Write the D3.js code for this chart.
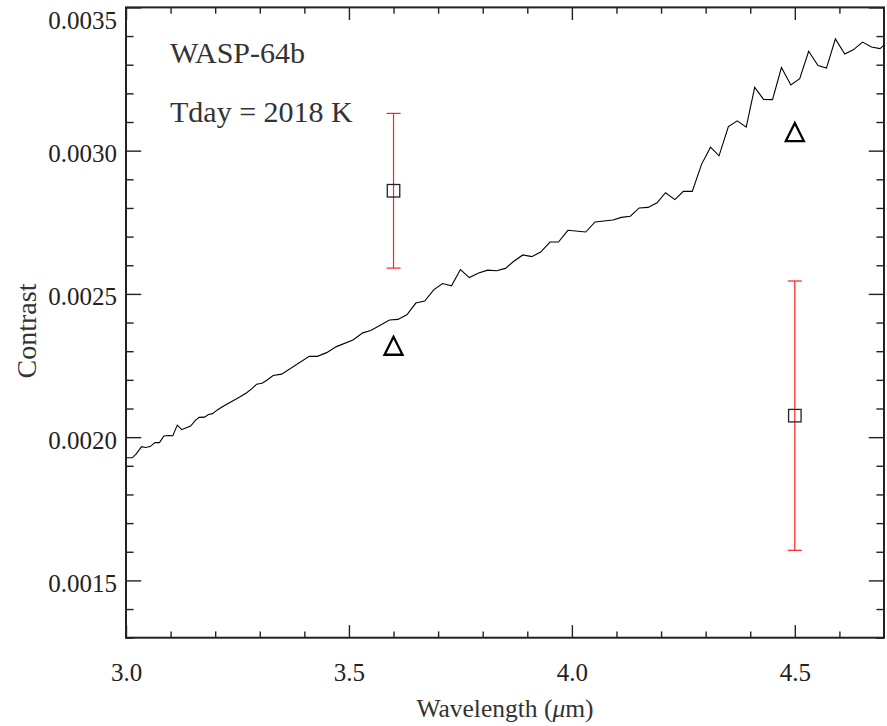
<!DOCTYPE html>
<html>
<head>
<meta charset="utf-8">
<script src="https://cdn.jsdelivr.net/npm/d3@7"></script>
</head>
<body style="margin:0; background:#fff">
<svg id="chart" width="887" height="726"></svg>
<script>
// Model planet/star contrast spectrum: [wavelength (micron), contrast]
const modelSpectrum = [
  [3.000, 0.001928], [3.014, 0.001928], [3.023, 0.001942], [3.035, 0.001967], [3.044, 0.001964],
  [3.054, 0.001967], [3.065, 0.001981], [3.075, 0.001981], [3.085, 0.002004], [3.096, 0.002006],
  [3.105, 0.002005], [3.115, 0.002042], [3.125, 0.002026], [3.135, 0.002033], [3.145, 0.002039],
  [3.155, 0.002058], [3.164, 0.002069], [3.176, 0.002070], [3.185, 0.002079], [3.194, 0.002082],
  [3.205, 0.002095], [3.215, 0.002105], [3.235, 0.002123], [3.255, 0.002140], [3.270, 0.002154],
  [3.283, 0.002170], [3.293, 0.002185], [3.305, 0.002188], [3.315, 0.002198], [3.330, 0.002215],
  [3.349, 0.002220], [3.411, 0.002282], [3.429, 0.002282], [3.450, 0.002295], [3.472, 0.002316],
  [3.509, 0.002339], [3.531, 0.002364], [3.549, 0.002372], [3.591, 0.002409], [3.610, 0.002411],
  [3.630, 0.002427], [3.650, 0.002468], [3.670, 0.002475], [3.690, 0.002514], [3.710, 0.002536],
  [3.730, 0.002528], [3.750, 0.002585], [3.770, 0.002557], [3.791, 0.002573], [3.811, 0.002583],
  [3.831, 0.002581], [3.851, 0.002589], [3.869, 0.002613], [3.890, 0.002636], [3.910, 0.002630],
  [3.930, 0.002646], [3.951, 0.002681], [3.970, 0.002681], [3.991, 0.002722], [4.031, 0.002716],
  [4.052, 0.002751], [4.092, 0.002758], [4.111, 0.002767], [4.131, 0.002771], [4.151, 0.002800],
  [4.171, 0.002802], [4.191, 0.002818], [4.210, 0.002853], [4.231, 0.002829], [4.250, 0.002858],
  [4.270, 0.002858], [4.291, 0.002953], [4.311, 0.003012], [4.330, 0.002982], [4.351, 0.003084],
  [4.371, 0.003104], [4.391, 0.003082], [4.410, 0.003221], [4.430, 0.003179], [4.450, 0.003178],
  [4.470, 0.003290], [4.491, 0.003229], [4.511, 0.003251], [4.531, 0.003347], [4.552, 0.003297],
  [4.571, 0.003288], [4.591, 0.003390], [4.612, 0.003337], [4.631, 0.003352], [4.652, 0.003379],
  [4.672, 0.003362], [4.691, 0.003356], [4.702, 0.003371]
];

// Measured eclipse depths (squares with error bars)
const obsWave = [3.6, 4.5];
const obsContrast = [0.00286, 0.002075];
const obsError = [0.00027, 0.00047];

// Band-integrated model (triangles)
const bandWave = [3.6, 4.5];
const bandContrast = [0.002319, 0.003065];

// Axis ticks
const xMajorTicks = [3.0, 3.5, 4.0, 4.5];
const xMinorTicks = [3.1, 3.2, 3.3, 3.4, 3.6, 3.7, 3.8, 3.9, 4.1, 4.2, 4.3, 4.4, 4.6];
const yMajorTicks = [0.0015, 0.0020, 0.0025, 0.0030, 0.0035];
const yMinorTicks = [0.0013, 0.0014, 0.0016, 0.0017, 0.0018, 0.0019, 0.0021, 0.0022, 0.0023,
                     0.0024, 0.0026, 0.0027, 0.0028, 0.0029, 0.0031, 0.0032, 0.0033, 0.0034];

const planetName = "WASP-64b";
const dayTemp = "Tday = 2018 K";

const FONT = "Liberation Serif";

// Layout
const margin = {top: 7.4, right: 3, bottom: 88.3, left: 126};
const width = 887 - margin.left - margin.right;
const height = 726 - margin.top - margin.bottom;

const svg = d3.select("#chart").attr("font-family", FONT);
const g = svg.append("g").attr("transform", `translate(${margin.left},${margin.top})`);

const x = d3.scaleLinear().domain([3.0, 4.7]).range([0, width]);
const y = d3.scaleLinear().domain([0.0013, 0.0035]).range([height, 0]);

// tick lengths, IDL style (ticks point inwards on all four sides)
const xTickLen = 12.6, yTickLen = 15.2;

function styleAxis(sel) {
  sel.attr("font-family", FONT).attr("font-size", 25);
  sel.select(".domain").remove();
  sel.selectAll(".tick line").attr("stroke", "#222").attr("stroke-width", 1.4);
  sel.selectAll(".tick text").attr("fill", "#222");
}

// bottom
g.append("g").attr("transform", `translate(0,${height})`)
  .call(d3.axisBottom(x).tickValues(xMajorTicks).tickFormat(d3.format(".1f"))
    .tickSize(-xTickLen).tickPadding(26))
  .call(styleAxis);
g.append("g").attr("transform", `translate(0,${height})`)
  .call(d3.axisBottom(x).tickValues(xMinorTicks).tickFormat("").tickSize(-xTickLen / 2))
  .call(styleAxis);
// top
g.append("g")
  .call(d3.axisTop(x).tickValues(xMajorTicks).tickFormat("").tickSize(-xTickLen))
  .call(styleAxis);
g.append("g")
  .call(d3.axisTop(x).tickValues(xMinorTicks).tickFormat("").tickSize(-xTickLen / 2))
  .call(styleAxis);
// left
const yAxisG = g.append("g")
  .call(d3.axisLeft(y).tickValues(yMajorTicks).tickFormat(d3.format(".4f"))
    .tickSize(-yTickLen).tickPadding(9))
  .call(styleAxis);
yAxisG.selectAll(".tick text").attr("dy", d => d === 0.0035 ? "0.84em" : "0.44em");
g.append("g")
  .call(d3.axisLeft(y).tickValues(yMinorTicks).tickFormat("").tickSize(-yTickLen / 2))
  .call(styleAxis);
// right
g.append("g").attr("transform", `translate(${width},0)`)
  .call(d3.axisRight(y).tickValues(yMajorTicks).tickFormat("").tickSize(-yTickLen))
  .call(styleAxis);
g.append("g").attr("transform", `translate(${width},0)`)
  .call(d3.axisRight(y).tickValues(yMinorTicks).tickFormat("").tickSize(-yTickLen / 2))
  .call(styleAxis);

// frame
g.append("rect").attr("width", width).attr("height", height)
  .attr("fill", "none").attr("stroke", "#222").attr("stroke-width", 2);

// clip for the model line
svg.append("defs").append("clipPath").attr("id", "plotClip")
  .append("rect").attr("width", width).attr("height", height);

const line = d3.line().x(d => x(d[0])).y(d => y(d[1]));
g.append("path").datum(modelSpectrum)
  .attr("clip-path", "url(#plotClip)")
  .attr("d", line)
  .attr("fill", "none").attr("stroke", "#000").attr("stroke-width", 1.1);

// error bars
const obs = obsWave.map((w, i) => ({w: w, c: obsContrast[i], e: obsError[i]}));
const capHalf = 7;
const eb = g.selectAll(".errbar").data(obs).enter().append("g").attr("class", "errbar")
  .attr("stroke", "#ff2020").attr("stroke-width", 1.2);
eb.append("line")
  .attr("x1", d => x(d.w)).attr("x2", d => x(d.w))
  .attr("y1", d => y(d.c - d.e)).attr("y2", d => y(d.c + d.e));
eb.append("line")
  .attr("x1", d => x(d.w) - capHalf).attr("x2", d => x(d.w) + capHalf)
  .attr("y1", d => y(d.c + d.e)).attr("y2", d => y(d.c + d.e));
eb.append("line")
  .attr("x1", d => x(d.w) - capHalf).attr("x2", d => x(d.w) + capHalf)
  .attr("y1", d => y(d.c - d.e)).attr("y2", d => y(d.c - d.e));

// squares
const sq = 12.5;
g.selectAll(".obs").data(obs).enter().append("rect").attr("class", "obs")
  .attr("x", d => x(d.w) - sq / 2).attr("y", d => y(d.c) - sq / 2)
  .attr("width", sq).attr("height", sq)
  .attr("fill", "none").attr("stroke", "#222").attr("stroke-width", 1.3);

// triangles
const band = bandWave.map((w, i) => ({w: w, c: bandContrast[i]}));
const th = 9;
g.selectAll(".band").data(band).enter().append("path").attr("class", "band")
  .attr("d", d => {
    const cx = x(d.w), cy = y(d.c);
    return `M${cx - th},${cy + th}L${cx},${cy - th}L${cx + th},${cy + th}Z`;
  })
  .attr("fill", "none").attr("stroke", "#000").attr("stroke-width", 2.3)
  .attr("stroke-linejoin", "miter");

// annotations
g.append("text").attr("x", 170 - margin.left).attr("y", 63.5 - margin.top)
  .attr("font-size", 30).attr("fill", "#333").text(planetName);
g.append("text").attr("x", 170 - margin.left).attr("y", 122 - margin.top)
  .attr("font-size", 30).attr("fill", "#333").text(dayTemp);

// axis titles
const xTitle = svg.append("text")
  .attr("x", margin.left + width / 2).attr("y", 717)
  .attr("text-anchor", "middle").attr("font-size", 25.5).attr("fill", "#333");
xTitle.append("tspan").text("Wavelength (");
xTitle.append("tspan").attr("font-style", "italic").text("\u03bc");
xTitle.append("tspan").text("m)");

svg.append("text")
  .attr("transform", "translate(36,331) rotate(-90)")
  .attr("text-anchor", "middle").attr("font-size", 28).attr("fill", "#333")
  .text("Contrast");
</script>
</body>
</html>
